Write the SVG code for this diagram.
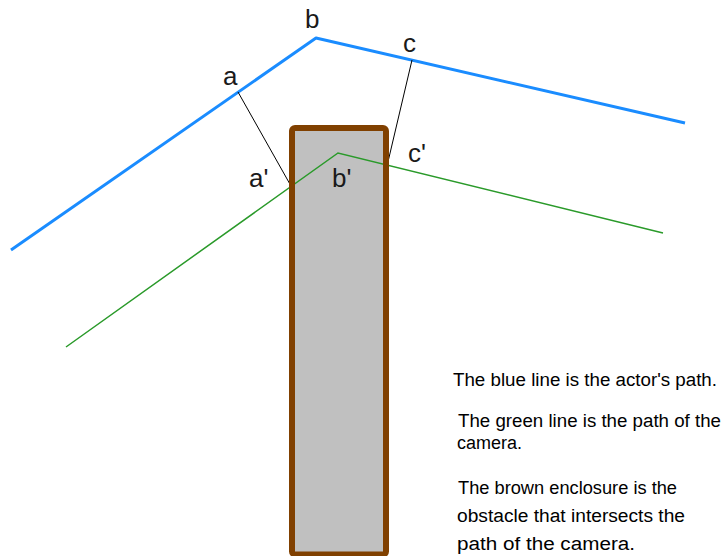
<svg xmlns="http://www.w3.org/2000/svg" width="726" height="556" viewBox="0 0 726 556">
<style>
.lbl{font-family:"Liberation Sans",Arial,sans-serif;font-size:26px;fill:#1a1a1a}
.txt{font-family:"Liberation Sans",Arial,sans-serif;font-size:18.8px;fill:#000}
.blue{fill:none;stroke:#1a8cff;stroke-width:3;stroke-linejoin:round}
.green{fill:none;stroke:#2a9a2a;stroke-width:1.5}
.proj{fill:none;stroke:#000;stroke-width:1}
</style>
<rect width="726" height="556" fill="#fff"/>
<g id="obstacle-fill">
<rect x="292" y="128" width="94" height="426.5" rx="3" fill="#c0c0c0"/>
</g>
<g id="connectors">
<polyline id="actor-path" class="blue" points="11,250 316,38 685,123"/>
<polyline id="camera-path" class="green" points="66,347 338,153 663,233"/>
<line class="proj" x1="238" y1="92" x2="291" y2="186"/>
<line class="proj" x1="412" y1="60" x2="387" y2="166"/>
</g>
<g id="obstacle">
<rect x="292" y="128" width="94" height="426.5" rx="3" fill="none" stroke="#804000" stroke-width="6"/>
</g>
<g id="labels">
<text class="lbl" x="223" y="85">a</text>
<text class="lbl" x="305" y="28">b</text>
<text class="lbl" x="403" y="52">c</text>
<text class="lbl" x="249" y="187">a'</text>
<text class="lbl" x="332" y="187">b'</text>
<text class="lbl" x="408" y="162">c'</text>
</g>
<g id="legend">
<text class="txt" x="453" y="386" textLength="264" lengthAdjust="spacingAndGlyphs">The blue line is the actor's path.</text>
<text class="txt" x="458" y="427" textLength="263" lengthAdjust="spacingAndGlyphs">The green line is the path of the</text>
<text class="txt" x="457" y="449" textLength="65" lengthAdjust="spacingAndGlyphs">camera.</text>
<text class="txt" x="458" y="494" textLength="219" lengthAdjust="spacingAndGlyphs">The brown enclosure is the</text>
<text class="txt" x="457" y="522" textLength="228" lengthAdjust="spacingAndGlyphs">obstacle that intersects the</text>
<text class="txt" x="457" y="550" textLength="178" lengthAdjust="spacingAndGlyphs">path of the camera.</text>
</g>
</svg>
